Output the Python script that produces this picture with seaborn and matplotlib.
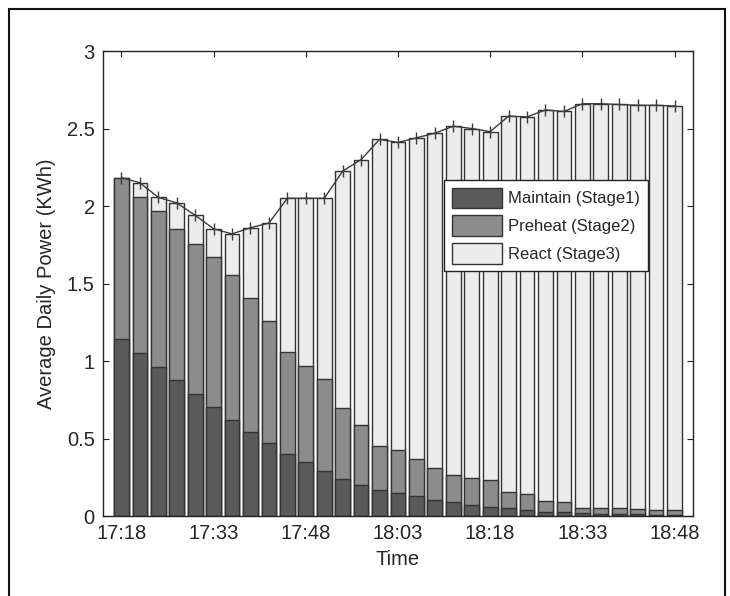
import numpy as np
import pandas as pd
import matplotlib
matplotlib.use("Agg")
import matplotlib.pyplot as plt
from matplotlib.patches import Rectangle
import seaborn as sns

# time slots (3 minute steps)
times = ["17:18", "17:21", "17:24", "17:27", "17:30", "17:33", "17:36", "17:39",
         "17:42", "17:45", "17:48", "17:51", "17:54", "17:57", "18:00", "18:03",
         "18:06", "18:09", "18:12", "18:15", "18:18", "18:21", "18:24", "18:27",
         "18:30", "18:33", "18:36", "18:39", "18:42", "18:45", "18:48"]

# per-stage energy (KWh)
maintain = [1.145, 1.05, 0.96, 0.877, 0.79, 0.705, 0.62, 0.54, 0.468, 0.40,
            0.348, 0.289, 0.24, 0.203, 0.17, 0.147, 0.127, 0.105, 0.088, 0.074,
            0.059, 0.049, 0.039, 0.029, 0.024, 0.017, 0.015, 0.012, 0.01, 0.008,
            0.005]
preheat = [1.035, 1.006, 1.01, 0.973, 0.967, 0.969, 0.934, 0.867, 0.792, 0.66,
           0.622, 0.593, 0.454, 0.383, 0.28, 0.279, 0.238, 0.206, 0.174, 0.174,
           0.174, 0.103, 0.101, 0.071, 0.069, 0.037, 0.036, 0.037, 0.034, 0.034,
           0.034]
react = [0.003, 0.094, 0.086, 0.17, 0.183, 0.179, 0.266, 0.453, 0.63, 0.99,
         1.08, 1.168, 1.531, 1.714, 1.98, 1.984, 2.075, 2.159, 2.253, 2.252,
         2.247, 2.428, 2.435, 2.52, 2.517, 2.606, 2.609, 2.606, 2.606, 2.608,
         2.606]

tick_labels = ["17:18", "17:33", "17:48", "18:03", "18:18", "18:33", "18:48"]

df = pd.DataFrame({"time": times, "maintain": maintain,
                   "preheat": preheat, "react": react})
df["pos"] = np.arange(len(df))
df["cum_pre"] = df["maintain"] + df["preheat"]
df["total"] = df["cum_pre"] + df["react"]

sns.set_style("ticks")
plt.rcParams["font.family"] = ["Liberation Sans", "DejaVu Sans"]

fig = plt.figure(figsize=(7.3, 5.96), dpi=100)
ax = fig.add_axes([0.1411, 0.1342, 0.8082, 0.7802])

edge = "#333333"
c_maint, c_pre, c_react = "#5a5a5a", "#8c8c8c", "#ececec"

# draw cumulative heights front to back so they look stacked
sns.barplot(data=df, x="pos", y="total", color=c_react, saturation=1,
            width=0.8, edgecolor=edge, linewidth=1.0, ax=ax,
            label="React (Stage3)")
sns.barplot(data=df, x="pos", y="cum_pre", color=c_pre, saturation=1,
            width=0.8, edgecolor=edge, linewidth=1.0, ax=ax,
            label="Preheat (Stage2)")
sns.barplot(data=df, x="pos", y="maintain", color=c_maint, saturation=1,
            width=0.8, edgecolor=edge, linewidth=1.0, ax=ax,
            label="Maintain (Stage1)")

ax.plot(df["pos"], df["total"], color="#3a3a3a", linewidth=1.0,
        marker="|", markersize=8, markeredgewidth=1.0)

ax.set_xlim(-1, len(df))
ax.set_ylim(0, 3)
ax.set_xticks(np.arange(0, len(df), 5))
ax.set_xticklabels(tick_labels)
ax.set_yticks([0, 0.5, 1, 1.5, 2, 2.5, 3])
ax.set_yticklabels(["0", "0.5", "1", "1.5", "2", "2.5", "3"])
ax.tick_params(direction="in", length=4, width=0.8, top=True, right=True,
               labelsize=14.5, pad=6, color="#222222")
for s in ax.spines.values():
    s.set_visible(True)
    s.set_linewidth(1.0)
    s.set_color("#222222")

ax.set_xlabel("Time", fontsize=14.5, labelpad=5)
ax.set_ylabel("Average Daily Power (KWh)", fontsize=14.5, labelpad=8)

handles, labels = ax.get_legend_handles_labels()
order = [labels.index(l) for l in ["Maintain (Stage1)", "Preheat (Stage2)", "React (Stage3)"]]
leg = ax.legend([handles[i] for i in order], [labels[i] for i in order],
                loc="upper left", bbox_to_anchor=(0.578, 0.7226),
                borderaxespad=0, fontsize=12, frameon=True, fancybox=False,
                framealpha=1, edgecolor="#222222", handlelength=3.05,
                handleheight=1.5, labelspacing=0.45, handletextpad=0.35,
                borderpad=0.45)
leg.get_frame().set_linewidth(1.0)

# outer frame around the whole picture
fig.add_artist(Rectangle((9 / 730, -0.02), 716 / 730, 1.02 - 9 / 596 + 0.0,
                         transform=fig.transFigure, fill=False,
                         edgecolor="#111111", linewidth=1.5, clip_on=False))

fig.savefig("out.png", dpi=100)
